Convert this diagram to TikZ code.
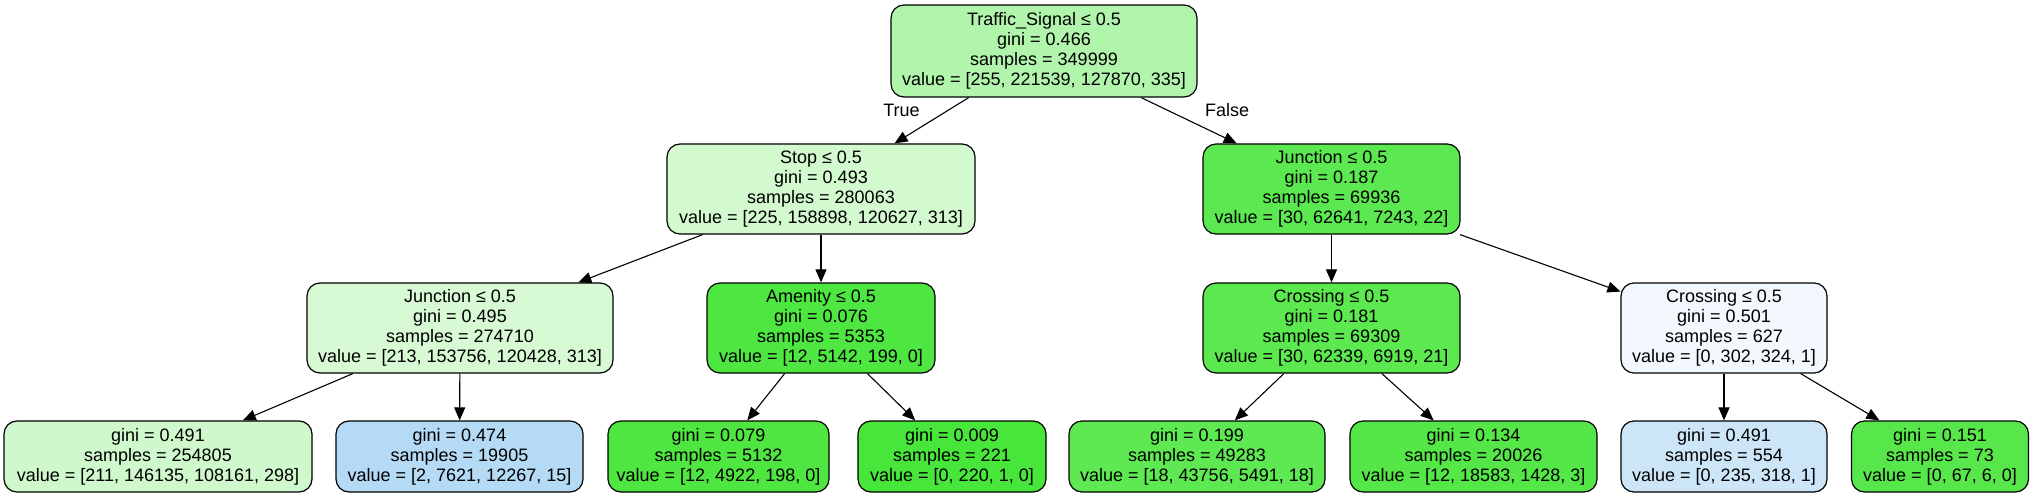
\documentclass[tikz,border=0pt]{standalone}
\usepackage{fontspec}
\setmainfont{Liberation Sans}
\usetikzlibrary{arrows.meta}
\definecolor{cRoot}{RGB}{177,244,171}
\definecolor{cStop}{RGB}{211,249,207}
\definecolor{cJunR}{RGB}{92,232,80}
\definecolor{cJunL}{RGB}{215,249,212}
\definecolor{cAmen}{RGB}{78,230,65}
\definecolor{cCrL}{RGB}{92,232,79}
\definecolor{cCrR}{RGB}{242,248,253}
\definecolor{cLa}{RGB}{207,248,204}
\definecolor{cLb}{RGB}{180,218,245}
\definecolor{cLc}{RGB}{79,230,65}
\definecolor{cLd}{RGB}{72,229,58}
\definecolor{cLe}{RGB}{94,232,82}
\definecolor{cLf}{RGB}{85,231,72}
\definecolor{cLg}{RGB}{204,230,248}
\definecolor{cLh}{RGB}{87,231,75}
\tikzset{
  tnode/.style={draw=black, line width=1.2pt, rounded corners=13pt, inner sep=0pt,
    align=center, font=\fontsize{18}{20}\selectfont, minimum height=90pt},
  leafnode/.style={tnode, minimum height=71pt},
  edge/.style={draw=black, line width=1.1pt, -{Triangle[length=13pt,width=11pt]}},
  elabel/.style={font=\fontsize{18}{20}\selectfont}
}
\begin{document}
\begin{tikzpicture}[x=1pt,y=-1pt]
\useasboundingbox (0,0) rectangle (2033,497);
\node[tnode, fill=cRoot, minimum width=306pt, minimum height=92pt] (root) at (1044,51)
  {Traffic\_Signal ≤ 0.5\\gini = 0.466\\samples = 349999\\value = [255, 221539, 127870, 335]};
\node[tnode, fill=cStop, minimum width=308pt] (stop) at (821,189)
  {Stop ≤ 0.5\\gini = 0.493\\samples = 280063\\value = [225, 158898, 120627, 313]};
\node[tnode, fill=cJunR, minimum width=257pt] (junR) at (1331.5,189)
  {Junction ≤ 0.5\\gini = 0.187\\samples = 69936\\value = [30, 62641, 7243, 22]};
\node[tnode, fill=cJunL, minimum width=306pt] (junL) at (460,328)
  {Junction ≤ 0.5\\gini = 0.495\\samples = 274710\\value = [213, 153756, 120428, 313]};
\node[tnode, fill=cAmen, minimum width=228pt] (amen) at (821,328)
  {Amenity ≤ 0.5\\gini = 0.076\\samples = 5353\\value = [12, 5142, 199, 0]};
\node[tnode, fill=cCrL, minimum width=257pt] (crL) at (1331.5,328)
  {Crossing ≤ 0.5\\gini = 0.181\\samples = 69309\\value = [30, 62339, 6919, 21]};
\node[tnode, fill=cCrR, minimum width=206pt] (crR) at (1724,328)
  {Crossing ≤ 0.5\\gini = 0.501\\samples = 627\\value = [0, 302, 324, 1]};
\node[leafnode, fill=cLa, minimum width=308pt] (la) at (158,456.5)
  {gini = 0.491\\samples = 254805\\value = [211, 146135, 108161, 298]};
\node[leafnode, fill=cLb, minimum width=247pt] (lb) at (459.5,456.5)
  {gini = 0.474\\samples = 19905\\value = [2, 7621, 12267, 15]};
\node[leafnode, fill=cLc, minimum width=221pt] (lc) at (718.5,456.5)
  {gini = 0.079\\samples = 5132\\value = [12, 4922, 198, 0]};
\node[leafnode, fill=cLd, minimum width=188pt] (ld) at (952,456.5)
  {gini = 0.009\\samples = 221\\value = [0, 220, 1, 0]};
\node[leafnode, fill=cLe, minimum width=256pt] (le) at (1197,456.5)
  {gini = 0.199\\samples = 49283\\value = [18, 43756, 5491, 18]};
\node[leafnode, fill=cLf, minimum width=247pt] (lf) at (1473.5,456.5)
  {gini = 0.134\\samples = 20026\\value = [12, 18583, 1428, 3]};
\node[leafnode, fill=cLg, minimum width=206pt] (lg) at (1724,456.5)
  {gini = 0.491\\samples = 554\\value = [0, 235, 318, 1]};
\node[leafnode, fill=cLh, minimum width=177pt] (lh) at (1940,456.5)
  {gini = 0.151\\samples = 73\\value = [0, 67, 6, 0]};
\draw[edge] (root) -- (stop);
\draw[edge] (root) -- (junR);
\draw[edge] (stop) -- (junL);
\draw[edge] (stop) -- (amen);
\draw[edge] (junR) -- (crL);
\draw[edge] (junR) -- (crR);
\draw[edge] (junL) -- (la);
\draw[edge] (junL) -- (lb);
\draw[edge] (amen) -- (lc);
\draw[edge] (amen) -- (ld);
\draw[edge] (crL) -- (le);
\draw[edge] (crL) -- (lf);
\draw[edge] (crR) -- (lg);
\draw[edge] (crR) -- (lh);
\node[elabel] (lTrue) at (901.5,110) {True};
\node[elabel] (lFalse) at (1227,110) {False};
\end{tikzpicture}
\end{document}
